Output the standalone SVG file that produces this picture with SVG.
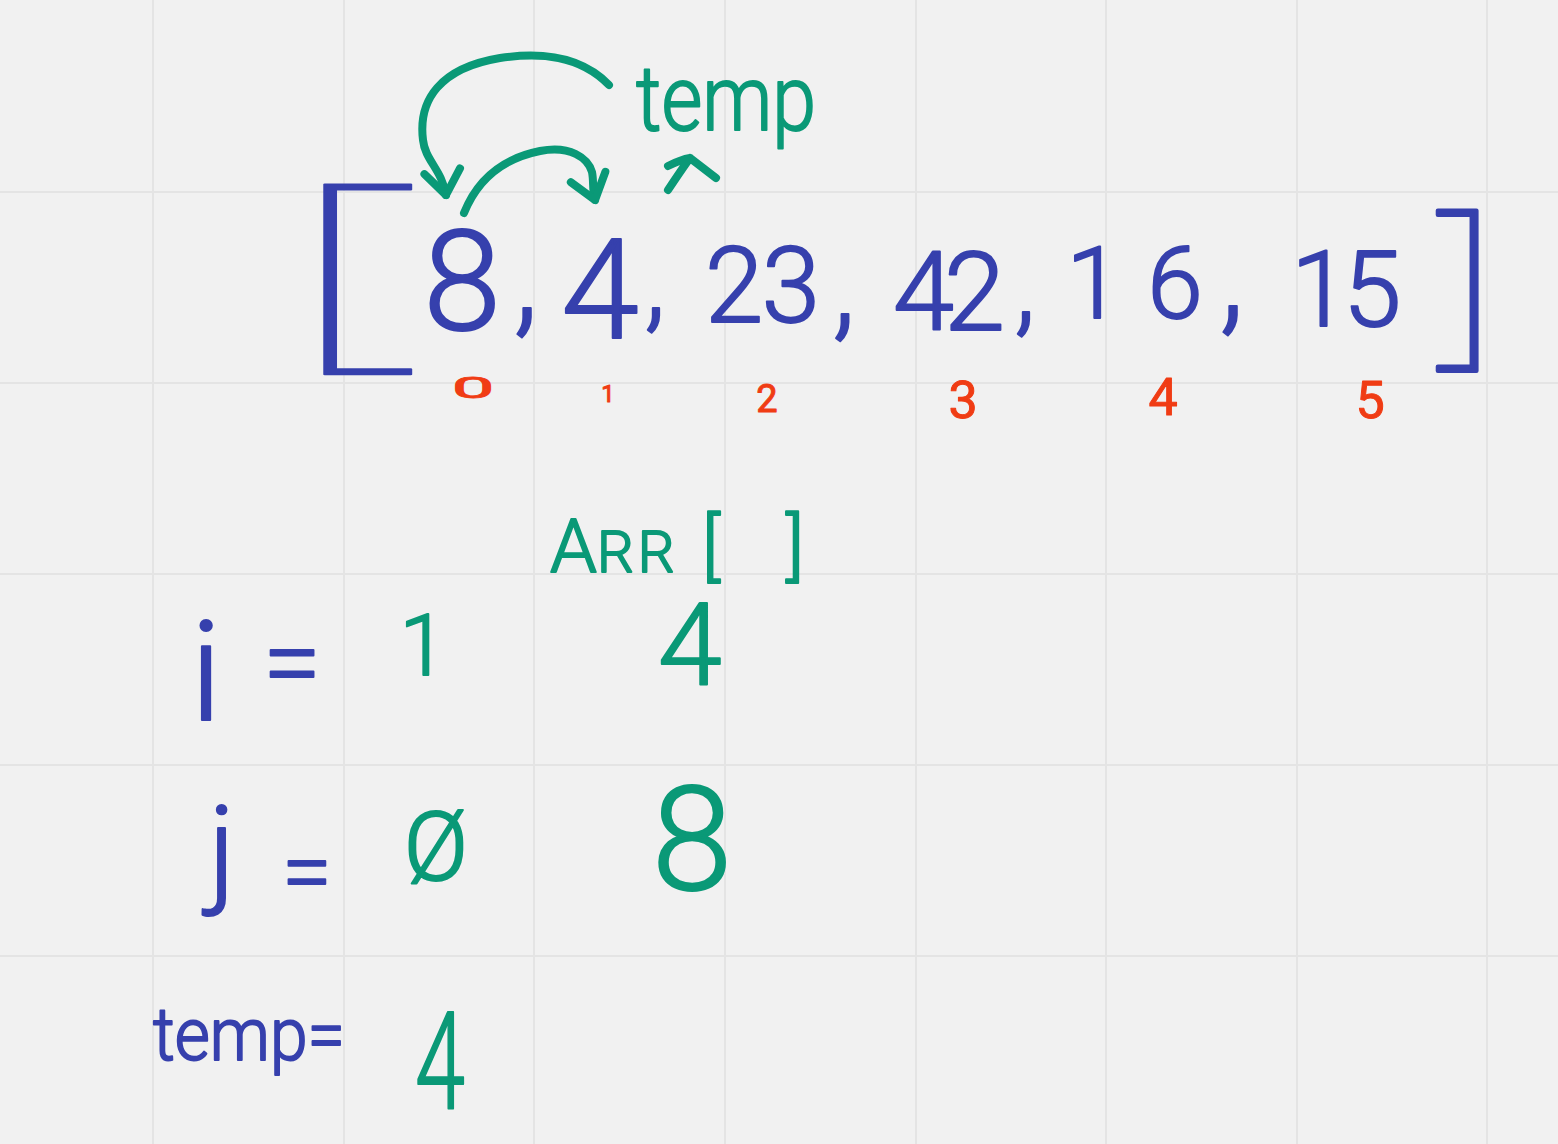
<svg xmlns="http://www.w3.org/2000/svg" width="1558" height="1144" viewBox="0 0 1558 1144">
<style>
.grid line{stroke:#e4e4e4;stroke-width:2}
.b{fill:#3640ad;stroke:#3640ad;stroke-width:2;stroke-linejoin:round;font-family:Roboto,"Liberation Sans",sans-serif;font-weight:300}
.g{fill:#0a9977;stroke:#0a9977;stroke-width:2;stroke-linejoin:round;font-family:Roboto,"Liberation Sans",sans-serif;font-weight:300}
.r{fill:#f03c14;stroke:#f03c14;stroke-width:1;stroke-linejoin:round;font-family:Roboto,"Liberation Sans",sans-serif;font-weight:400;text-anchor:middle}
.m{text-anchor:middle}
.br{fill:#3640ad;stroke:#3640ad;stroke-linejoin:round;font-family:"Noto Sans",sans-serif;font-weight:100}
.arr{fill:none;stroke:#0a9977;stroke-width:8;stroke-linecap:round;stroke-linejoin:round}
</style>
<defs>
<marker id="ah" markerUnits="userSpaceOnUse" viewBox="-40 -30 50 60" markerWidth="50" markerHeight="60" refX="0" refY="0" orient="auto" overflow="visible">
<path d="M-24,-18 L0,0 L-24,18" fill="none" stroke="#0a9977" stroke-width="8" stroke-linecap="round" stroke-linejoin="round"/>
</marker>
</defs>
<rect width="1558" height="1144" fill="#f1f1f1"/>
<g class="grid">
<line x1="153" y1="0" x2="153" y2="1144"/><line x1="344" y1="0" x2="344" y2="1144"/><line x1="534" y1="0" x2="534" y2="1144"/><line x1="725" y1="0" x2="725" y2="1144"/><line x1="916" y1="0" x2="916" y2="1144"/><line x1="1106" y1="0" x2="1106" y2="1144"/><line x1="1297" y1="0" x2="1297" y2="1144"/><line x1="1487" y1="0" x2="1487" y2="1144"/>
<line x1="0" y1="192" x2="1558" y2="192"/><line x1="0" y1="383" x2="1558" y2="383"/><line x1="0" y1="574" x2="1558" y2="574"/><line x1="0" y1="765" x2="1558" y2="765"/><line x1="0" y1="956" x2="1558" y2="956"/>
</g>
<g id="array">
<text class="br" transform="translate(287,340) scale(1.97,1)" font-size="218" stroke-width="1.5">[</text>
<text class="b m" x="462" y="330" font-size="140">8</text>
<text class="b m" x="526" y="320" font-size="130">,</text>
<text class="b m" x="600" y="338" font-size="140">4</text>
<text class="b m" x="655" y="318" font-size="110">,</text>
<text class="b" x="705" y="322" font-size="105" textLength="115">23</text>
<text class="b m" x="844" y="325" font-size="120">,</text>
<text class="b" x="893" y="330" font-size="110" textLength="112">42</text>
<text class="b m" x="1025" y="322" font-size="110">,</text>
<text class="b m" x="1094 1175" y="318" font-size="100">16</text>
<text class="b m" x="1232" y="318" font-size="130">,</text>
<text class="b m" x="1320 1372" y="326" font-size="105">15</text>
<text class="br" transform="translate(1433,342) scale(1.05,1)" font-size="184" stroke-width="4">]</text>
</g>
<g id="indices">
<text class="r" transform="translate(473,398) scale(1.9,0.75)" font-size="40" font-weight="300" stroke-width="1.8">0</text>
<text class="r" x="608" y="402" font-size="24">1</text>
<text class="r" x="767" y="412" font-size="38">2</text>
<text class="r" x="963" y="418" font-size="52">3</text>
<text class="r" x="1163" y="415" font-size="52">4</text>
<text class="r" x="1370" y="418" font-size="52">5</text>
</g>
<g id="temp-label">
<text class="g" x="636" y="130" font-size="90" textLength="180" lengthAdjust="spacingAndGlyphs">temp</text>
</g>
<g id="arr-label">
<text class="g" y="572" font-size="75"><tspan x="550">A</tspan><tspan font-size="58" letter-spacing="4">RR</tspan><tspan x="702">[ </tspan><tspan x="786">]</tspan></text>
</g>
<g id="i-row">
<text class="b m" x="206" y="720" font-size="140">i</text>
<text class="b m" x="292" y="699" font-size="105">=</text>
<text class="g m" x="423" y="675" font-size="85">1</text>
<text class="g m" x="690" y="685" font-size="115">4</text>
</g>
<g id="j-row">
<text class="b m" x="222" y="891" font-size="118">j</text>
<text class="b m" x="307" y="903" font-size="90">=</text>
<text class="g m" x="436" y="880" font-size="95">Ø</text>
<text class="g m" x="692" y="890" font-size="145">8</text>
</g>
<g id="temp-row">
<text class="b" x="153" y="1060" font-size="75" textLength="192" lengthAdjust="spacingAndGlyphs">temp=</text>
<text class="g" x="415" y="1108" font-size="135" textLength="50" lengthAdjust="spacingAndGlyphs">4</text>
</g>
<g id="connectors">
<path class="arr" marker-end="url(#ah)" d="M609,85 C580,55 540,52 500,58 C440,68 418,100 423,140 C425,160 442,170 446,195"/>
<path class="arr" marker-end="url(#ah)" d="M464,213 C478,178 505,158 540,151 C570,145 588,158 592,172 C594,182 592,190 595,200"/>
<path class="arr" d="M668,190 C676,178 684,166 690,158 L716,178 M668,166 C676,162 684,159 690,158"/>
</g>
</svg>
